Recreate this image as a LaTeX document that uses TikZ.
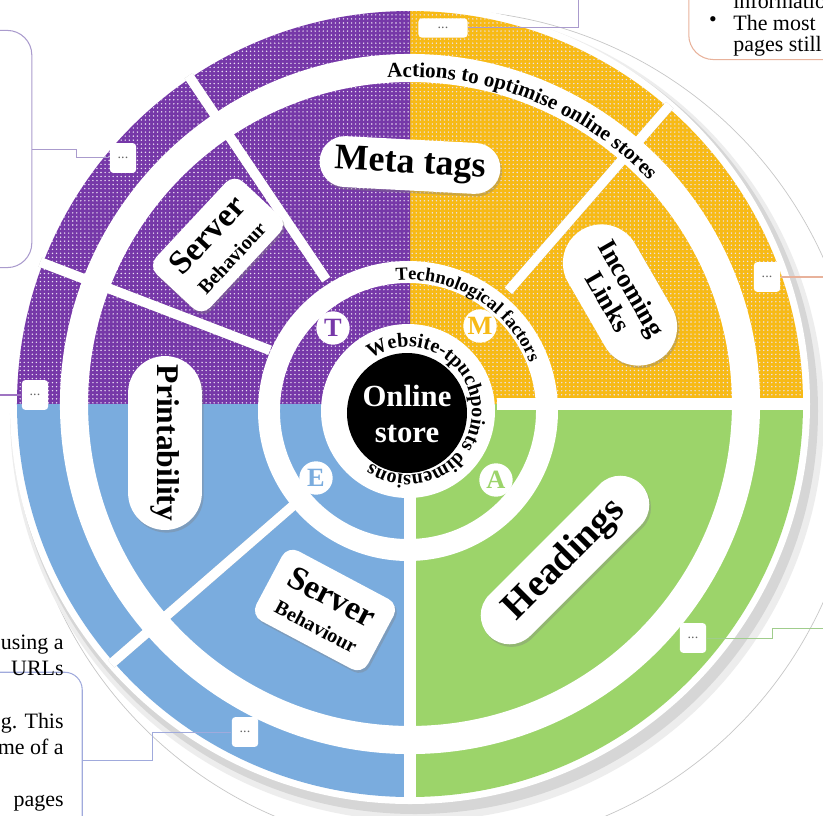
\documentclass[tikz,border=0pt]{standalone}
\usepackage{fontspec}
\setmainfont{Liberation Serif}
\usepackage{tikz}
\usetikzlibrary{shapes.misc,shadows,decorations.text,patterns.meta}

\definecolor{tcolor}{RGB}{118,56,168}
\definecolor{mcolor}{RGB}{247,186,22}
\definecolor{ecolor}{RGB}{122,172,222}
\definecolor{acolor}{RGB}{156,212,106}
\definecolor{linepurple}{RGB}{170,155,205}
\definecolor{lineorange}{RGB}{232,178,155}
\definecolor{linegreen}{RGB}{160,205,140}
\definecolor{lineblue}{RGB}{160,170,220}

\begin{document}
\begin{tikzpicture}[scale=0.02,
                    pill/.style={rounded rectangle,fill=white,align=center,inner sep=1pt,
                                 drop shadow={shadow xshift=1pt,shadow yshift=-1.5pt,opacity=0.35}},
                    card/.style={rectangle,rounded corners=7pt,fill=white,align=center,inner sep=1pt,
                                 drop shadow={shadow xshift=1pt,shadow yshift=-1.5pt,opacity=0.35}},
                    badge/.style={circle,fill=white,minimum size=19pt,inner sep=0pt,font=\bfseries\fontsize{15}{15}\selectfont},
                    more/.style={rectangle,rounded corners=2pt,fill=white,minimum width=15pt,minimum height=17pt,
                                 inner sep=0pt,font=\fontsize{8}{8}\selectfont,text=black!60},
                    gap/.style={white,line width=5.5pt},
                    gapshade/.style={black!25,line width=5.5pt,xshift=0.7pt,yshift=-0.7pt},
                    link/.style={line width=0.6pt},
                    note/.style={font=\fontsize{12.5}{12.5}\selectfont,inner sep=0pt}
                ]
    \path[use as bounding box,clip] (-410,-411) rectangle (413,404);

    % discs behind the wheel
    \filldraw[fill=white,draw=black!22] (30,-26) circle (420);
    \fill[black!7] (7,-10) circle (407);
    \fill[black!16] (5,-7) circle (403);
    \fill[white] (0,0) circle (400);

    % quadrants
    \foreach \a/\c in {0/mcolor,90/tcolor,180/ecolor,270/acolor}
        {
        \fill[\c] (0,0) -- (\a:393) arc[start angle=\a,end angle=\a+90,radius=393] -- cycle;
        }
    \fill[pattern={Dots[distance=2.3pt,radius=0.45pt]},pattern color=white!85!tcolor]
        (0,0) -- (0:393) arc[start angle=0,end angle=180,radius=393] -- cycle;

    % gaps between the segments
    \foreach \a in {49,124,159,221}
        {
        \draw[gapshade] (\a:150) -- (\a:396);
        \draw[gap] (\a:150) -- (\a:396);
        }
    \foreach \a in {0,270}
        {
        \draw[gapshade] (\a:87) -- (\a:396);
        \draw[gap,line width=6.5pt] (\a:87) -- (\a:396);
        }

    % white rings
    \draw[white,line width=16pt] (0,0) circle (336);
    \path[decorate,decoration={text along path,text align=center,
          text={|\bfseries\fontsize{12}{12}\selectfont|Actions to optimise online stores}}]
          (100:327) arc[start angle=100,end angle=37,radius=327];

    \begin{scope}[shift={(-2,-7)}]
        \draw[white,line width=12.5pt] (0,0) circle (139);
        \path[decorate,decoration={text along path,text align=center,
              text={|\bfseries\fontsize{10.5}{10.5}\selectfont|Technological factors}}]
              (108:131) arc[start angle=108,end angle=9,radius=131];
        \fill[white] (0,0) circle (87);
        \path[decorate,decoration={text along path,text align=center,
              text={|\bfseries\fontsize{11.5}{11.5}\selectfont|Website-tpuchpoints dimensions}}]
              (122:64) arc[start angle=122,end angle=-122,radius=64];
        \fill[black] (-1,-2) circle (60);
        \node[text=white,align=center,font=\bfseries\fontsize{17.5}{20}\selectfont] (store) at (-1,-3) {Online\\store};
    \end{scope}

    % dimension letters
    \foreach \n/\x/\y/\c in {T/-77/76/tcolor,M/70/78/mcolor,E/-94/-74/ecolor,A/86/-76/acolor}
        {
        \node[badge,text=\c] (\n) at (\x,\y) {\n};
        }

    % actions
    \node[pill,minimum width=105pt,minimum height=29pt,rotate=-3,font=\bfseries\fontsize{20.5}{22}\selectfont] (meta) at (0,239) {Meta tags};
    \node[pill,minimum width=88pt,minimum height=44pt,rotate=-60,font=\bfseries\fontsize{15}{15.5}\selectfont] (links) at (210,109) {Incoming\\Links};
    \node[card,minimum width=72pt,minimum height=42pt,rotate=47,font=\bfseries\fontsize{19}{17}\selectfont] (srvtop) at (-192,159) {Server\\{\fontsize{11.5}{12}\selectfont Behaviour}};
    \node[pill,minimum width=101pt,minimum height=42pt,rotate=-90,font=\bfseries\fontsize{18}{18}\selectfont] (print) at (-245,-39) {Printability};
    \node[card,minimum width=72pt,minimum height=45pt,rotate=-28,font=\bfseries\fontsize{19}{17}\selectfont] (srvlow) at (-85,-206) {Server\\{\fontsize{11.5}{12}\selectfont Behaviour}};
    \node[pill,minimum width=124pt,minimum height=33pt,rotate=45,font=\bfseries\fontsize{22}{22}\selectfont] (head) at (155,-156) {Headings};

    % more boxes
    \node[more,minimum width=28pt,minimum height=11pt] (mtop) at (33,376) {...};
    \node[more] (mul) at (-287,246) {...};
    \node[more] (ml) at (-375,9) {...};
    \node[more] (mr) at (357,127) {...};
    \node[more] (mbr) at (283,-234) {...};
    \node[more] (mbl) at (-165,-328) {...};

    % boxes of notes, cut by the frame
    \node[draw=linepurple,link,rounded corners=14pt,minimum width=59pt,minimum height=135pt] (ulbox) at (-430,255) {};
    \node[draw=lineorange,link,rounded corners=14pt,minimum width=138pt,minimum height=86pt] (trbox) at (400,420) {};
    \node[draw=lineblue,link,rounded corners=10pt,minimum width=105pt,minimum height=150pt] (blbox) at (-420,-400) {};

    \node[note,anchor=west] (info) at (323,403) {information};
    \node[note] (bullet) at (303,382) {•};
    \node[note,anchor=west] (most) at (323,381) {The most};
    \node[note,anchor=west] (still) at (323,358) {pages still};

    \node[note,anchor=east] (using) at (-346,-241) {using a};
    \node[note,anchor=east] (urls) at (-346,-264) {URLs};
    \node[note,anchor=east] (this) at (-346,-319) {g. This};
    \node[note,anchor=east] (ofa) at (-346,-343) {me of a};
    \node[note,anchor=east] (pages) at (-346,-399) {pages};

    % connectors
    \coordinate (ttop) at (168,420);
    \coordinate (ulknee) at (-333,254);
    \coordinate (lend) at (-420,9);
    \coordinate (rend) at (420,127);
    \coordinate (brknee) at (362,-224);
    \coordinate (brend) at (420,-224);
    \coordinate (blknee) at (-257,-356);

    \draw[link,linepurple] (mtop.east) -| (ttop);
    \draw[link,linepurple] (mul.west) -| (ulknee) -- (ulknee -| ulbox.east);
    \draw[link,tcolor!70] (ml.west) -- (lend);
    \draw[link,lineorange] (mr.east) -- (rend);
    \draw[link,linegreen] (mbr.east) -| (brknee) -- (brend);
    \draw[link,lineblue] (mbl.west) -| (blknee) -- (blknee -| blbox.east);
\end{tikzpicture}
\end{document}
